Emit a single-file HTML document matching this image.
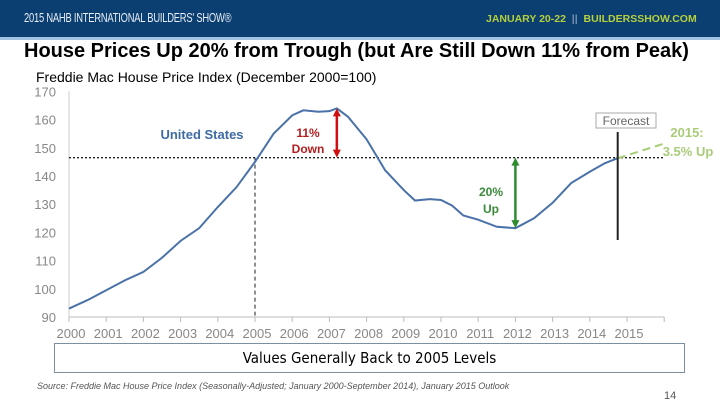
<!DOCTYPE html>
<html><head><meta charset="utf-8"><style>
body{margin:0;width:720px;height:405px;overflow:hidden;background:#fff;font-family:"Liberation Sans",sans-serif;position:relative}
.abs{position:absolute}
</style></head><body>
<div class="abs" style="left:0;top:0;width:720px;height:37px;background:#0b3f72;border-bottom:3px solid #9fc3e0"></div>
<div class="abs" style="left:24px;top:10px;color:#e8eef5;font-size:13px;letter-spacing:-0.3px;transform:scaleX(0.72);transform-origin:left;white-space:nowrap">2015 NAHB INTERNATIONAL BUILDERS' SHOW®</div>
<div class="abs" style="left:486px;top:13px;color:#b5cf3d;font-size:10.5px;font-weight:bold;white-space:nowrap">JANUARY 20-22 &nbsp;<span style="color:#7a93b0">||</span>&nbsp; BUILDERSSHOW.COM</div>
<div class="abs" style="left:24px;top:40px;font-size:20px;font-weight:bold;color:#000;white-space:nowrap">House Prices Up 20% from Trough (but Are Still Down 11% from Peak)</div>
<div class="abs" style="left:36px;top:69px;font-size:14px;color:#000;white-space:nowrap">Freddie Mac House Price Index (December 2000=100)</div>
<svg class="abs" id="chart" style="left:0;top:0" width="720" height="405"></svg>
<div class="abs" style="left:54px;top:343px;width:629px;height:28px;border:1px solid #7a8fa0;text-align:center;font-size:15px;line-height:28px;font-family:'DejaVu Sans Condensed','Liberation Sans',sans-serif">Values Generally Back to 2005 Levels</div>
<div class="abs" style="left:37px;top:381px;font-size:9px;font-style:italic;color:#555;white-space:nowrap">Source: Freddie Mac House Price Index  (Seasonally-Adjusted; January 2000-September 2014), January 2015 Outlook</div>
<div class="abs" style="left:664px;top:390px;font-size:11px;color:#555">14</div>
<script>
const years=[2000,2000.5,2001,2001.5,2002,2002.5,2003,2003.5,2004,2004.5,2005,2005.5,2006,2006.3,2006.7,2007,2007.2,2007.5,2008,2008.5,2009,2009.3,2009.7,2010,2010.3,2010.6,2011,2011.5,2012,2012.5,2013,2013.5,2014,2014.4,2014.75];
const hpi=[93,96,99.5,103,106,111,117,121.5,129,136,145,155,161.5,163.3,162.8,163,164,161,153,142,135,131.3,131.8,131.5,129.5,126,124.5,122,121.5,125,130.5,137.5,141.5,144.5,146.3];
const forecastYears=[2014.75,2016];
const forecastVals=[146.3,151.5];
const yTicks=[90,100,110,120,130,140,150,160,170];
const xTicks=[2000,2001,2002,2003,2004,2005,2006,2007,2008,2009,2010,2011,2012,2013,2014,2015];
const refLevel=146.5;
const X=v=>69+(v-2000)*37.2, Y=v=>317-(v-90)*2.82;
const s=document.getElementById('chart'),NS='http://www.w3.org/2000/svg';
function el(t,a,txt){const e=document.createElementNS(NS,t);for(const k in a)e.setAttribute(k,a[k]);if(txt!=null)e.textContent=txt;s.appendChild(e);return e;}
let e=el('line',{x1:69,y1:317,x2:X(2016),y2:317,stroke:'#bbb'});

e=el('line',{x1:69,y1:Y(170),x2:69,y2:317,stroke:'#ccc'});

yTicks.forEach(v=>{const t=el('text',{x:56,y:Y(v)+5,'text-anchor':'end','font-size':13,fill:'#888'},v);
});
xTicks.concat([2016]).forEach(v=>{const t=el('line',{x1:X(v),y1:317,x2:X(v),y2:322,stroke:'#bbb'});
});
xTicks.forEach(v=>{const t=el('text',{x:X(v)+2,y:338,'text-anchor':'middle','font-size':13,fill:'#888'},v);
});
e=el('line',{x1:69,y1:Y(refLevel),x2:X(2016),y2:Y(refLevel),stroke:'#222','stroke-dasharray':'2,2','stroke-width':1.3});

e=el('line',{x1:X(2005),y1:Y(refLevel),x2:X(2005),y2:317,stroke:'#222','stroke-dasharray':'4,3'});

e=el('polyline',{points:years.map((y,i)=>X(y)+','+Y(hpi[i])).join(' '),fill:'none',stroke:'#4a72a8','stroke-width':2});

e=el('polyline',{points:forecastYears.map((y,i)=>X(y)+','+Y(forecastVals[i])).join(' '),fill:'none',stroke:'#a8cc78','stroke-width':2,'stroke-dasharray':'8,5'});

e=el('line',{x1:X(2014.75),y1:132,x2:X(2014.75),y2:240,stroke:'#222','stroke-width':2});

e=el('rect',{x:596,y:113,width:60,height:15,fill:'#fff',stroke:'#aaa'});

e=el('text',{x:626,y:125,'text-anchor':'middle','font-size':12,fill:'#666'},'Forecast');

e=el('text',{x:202,y:139,'text-anchor':'middle','font-size':13,'font-weight':'bold',fill:'#3f6ba3'},'United States');

const ax=X(2007.2);
e=el('line',{x1:ax,y1:Y(164)+4,x2:ax,y2:Y(refLevel)-4,stroke:'#d01010','stroke-width':2.5});

el('polygon',{points:`${ax-4},${Y(164)+8} ${ax+4},${Y(164)+8} ${ax},${Y(164)}`,fill:'#d01010'});
el('polygon',{points:`${ax-4},${Y(refLevel)-8} ${ax+4},${Y(refLevel)-8} ${ax},${Y(refLevel)}`,fill:'#d01010'});
e=el('text',{x:308,y:137,'text-anchor':'middle','font-size':12,'font-weight':'bold',fill:'#b02020'},'11%');

e=el('text',{x:308,y:153,'text-anchor':'middle','font-size':12,'font-weight':'bold',fill:'#b02020'},'Down');
const gx=X(2012);
e=el('line',{x1:gx,y1:Y(refLevel)+4,x2:gx,y2:Y(121.5)-4,stroke:'#2e8b2e','stroke-width':2.5});

el('polygon',{points:`${gx-4},${Y(refLevel)+8} ${gx+4},${Y(refLevel)+8} ${gx},${Y(refLevel)}`,fill:'#2e8b2e'});
el('polygon',{points:`${gx-4},${Y(121.5)-8} ${gx+4},${Y(121.5)-8} ${gx},${Y(121.5)}`,fill:'#2e8b2e'});
e=el('text',{x:491,y:196,'text-anchor':'middle','font-size':12,'font-weight':'bold',fill:'#3a8a3a'},'20%');

el('text',{x:491,y:213,'text-anchor':'middle','font-size':12,'font-weight':'bold',fill:'#3a8a3a'},'Up');
e=el('text',{x:687,y:137,'text-anchor':'middle','font-size':13,'font-weight':'bold',fill:'#a8cc78'},'2015:');

el('text',{x:688,y:156,'text-anchor':'middle','font-size':13,'font-weight':'bold',fill:'#a8cc78'},'3.5%  Up');
</script>
</body></html>
